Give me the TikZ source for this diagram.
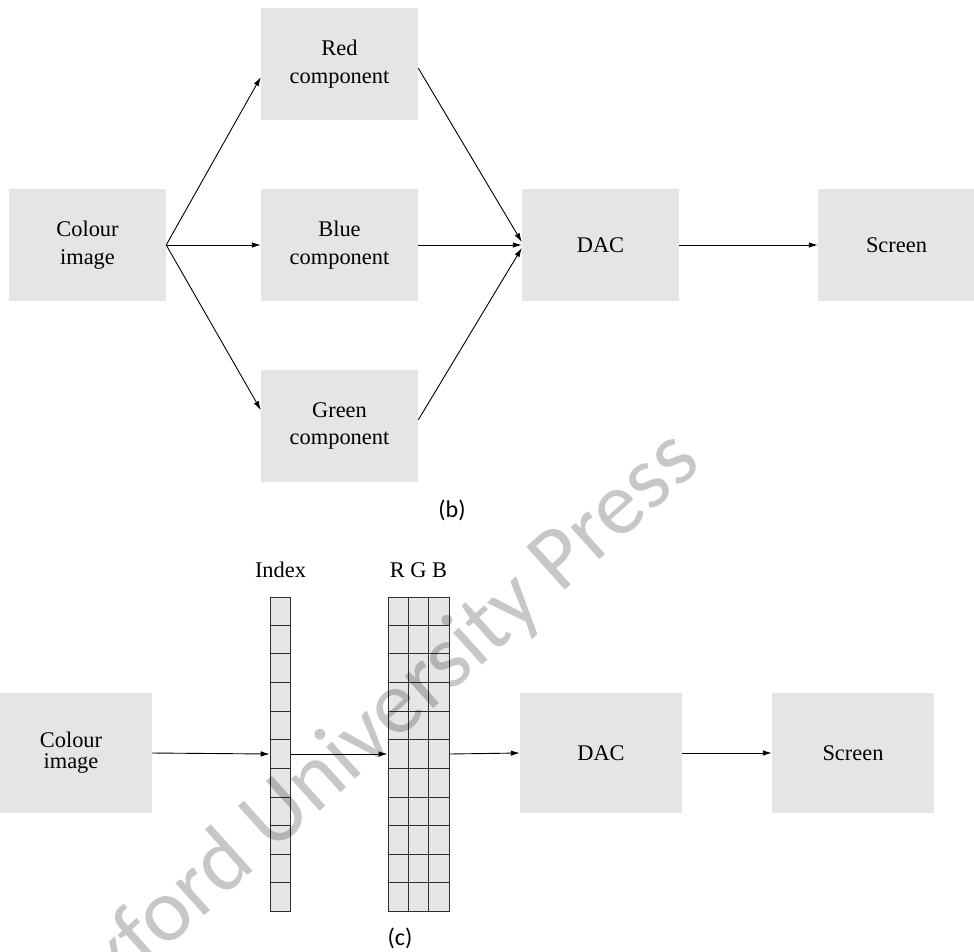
\documentclass[tikz,border=0pt]{standalone}
\usepackage{fontspec}
\setmainfont{Liberation Serif}
\newfontfamily\labelfont{Carlito}
\usetikzlibrary{arrows.meta,calc}
\definecolor{boxgray}{RGB}{229,229,229}
\definecolor{cellgray}{RGB}{230,230,230}
\definecolor{gridline}{RGB}{45,45,45}

\begin{document}
\begin{tikzpicture}[x=1pt,y=-1pt,
  block/.style={rectangle, fill=boxgray, inner sep=0pt, align=center},
  blockb/.style={block, minimum width=157pt, minimum height=112pt,
                 font=\fontsize{22.4}{27.5}\selectfont},
  blockc/.style={block, minimum width=162pt, minimum height=120pt,
                 font=\fontsize{22.4}{21}\selectfont},
  flow/.style={-{Latex[length=9pt,width=5.5pt]}, line width=0.9pt},
  lut/.style={rectangle, draw=gridline, fill=cellgray, line width=0.9pt,
              inner sep=0pt, minimum height=314pt},
  sublabel/.style={font=\labelfont\fontsize{24}{28}\selectfont},
  heading/.style={font=\fontsize{22.4}{26}\selectfont, anchor=base, inner sep=0pt}]

\useasboundingbox (0,0) rectangle (974,951);

% ---------- (b): separate colour planes ----------
\node[blockb] (cimgB) at (87.5,245)  {Colour\\image};
\node[blockb] (red)   at (339.5,64)  {Red\\component};
\node[blockb] (blue)  at (339.5,245) {Blue\\component};
\node[blockb] (green) at (339.5,426) {Green\\component};
\node[blockb] (dacB)  at (600.5,245) {DAC};
\node[blockb] (scrB)  at (896.5,245) {Screen};

\draw[flow] (cimgB.east) -- ([yshift=-13pt]red.west);
\draw[flow] (cimgB.east) -- (blue.west);
\draw[flow] (cimgB.east) -- ([yshift=16pt]green.west);
\draw[flow] ([yshift=-4pt]red.east) -- ([yshift=3pt]dacB.west);
\draw[flow] (blue.east) -- (dacB.west);
\draw[flow] ([yshift=6pt]green.east) -- ([yshift=-3pt]dacB.west);
\draw[flow] (dacB.east) -- (scrB.west);

\node[sublabel] (capB) at (452,510) {(b)};

% ---------- (c): colour lookup table ----------
\node[blockc] (cimgC) at (71,753)  {Colour\\image};
\node[blockc] (dacC)  at (601,753) {DAC};
\node[blockc] (scrC)  at (853,753) {Screen};

\node[lut, minimum width=20.7pt] (idx) at (280.5,754) {};
\node[lut, minimum width=61pt]   (rgb) at (418.5,754) {};

\foreach \i in {1,...,10}{
  \draw[gridline, line width=0.9pt]
    ($(idx.north west)!\i/11!(idx.south west)$) -- ($(idx.north east)!\i/11!(idx.south east)$);
  \draw[gridline, line width=0.9pt]
    ($(rgb.north west)!\i/11!(rgb.south west)$) -- ($(rgb.north east)!\i/11!(rgb.south east)$);
}
\foreach \j in {1,2}{
  \draw[gridline, line width=0.9pt]
    ($(rgb.north west)!\j/3!(rgb.north east)$) -- ($(rgb.south west)!\j/3!(rgb.south east)$);
}

\node[heading] (idxhead) at (280.5,577) {Index};
\node[heading] (rgbhead) at (418.5,577) {R G B};

\draw[flow] (cimgC.east) -- (idx.west);
\draw[flow] (idx.east) -- (rgb.west);
\draw[flow] (rgb.east) -- (dacC.west);
\draw[flow] (dacC.east) -- (scrC.west);

\node[sublabel] (capC) at (400,938) {(c)};

% ---------- publisher mark ----------
\node[font=\labelfont\fontsize{90}{100}\selectfont, text=black, text opacity=0.22,
      rotate=42, inner sep=0pt] (mark) at (372,732) {Oxford University Press};

\end{tikzpicture}
\end{document}
